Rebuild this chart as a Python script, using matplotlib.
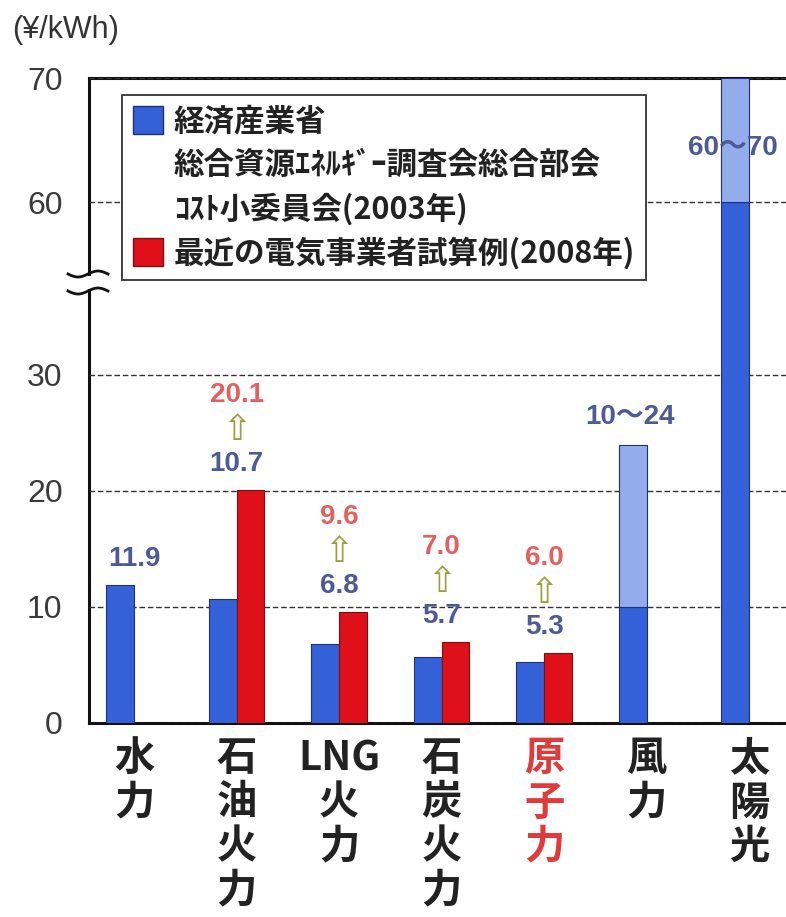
import numpy as np
import matplotlib
matplotlib.use("Agg")
import matplotlib.pyplot as plt
from matplotlib.patches import Patch, Rectangle
from matplotlib.lines import Line2D

# Generation cost per kWh by power source
categories = ["水力", "石油火力", "LNG火力", "石炭火力", "原子力", "風力", "太陽光"]
tick_labels = ["水\n力", "石\n油\n火\n力", "LNG\n火\n力", "石\n炭\n火\n力", "原\n子\n力", "風\n力", "太\n陽\n光"]
meti_cost = [11.9, 10.7, 6.8, 5.7, 5.3, 10, 60]           # METI 2003 (lower bound for ranges)
meti_cost_high = [None, None, None, None, None, 24, 70]   # upper bound where a range is given
utility_cost = [None, 20.1, 9.6, 7.0, 6.0, None, None]     # utilities 2008

legend_labels = ["経済産業省",
                 "総合資源ｴﾈﾙｷﾞｰ調査会総合部会",
                 "ｺｽﾄ小委員会(2003年)",
                 "最近の電気事業者試算例(2008年)"]

BLUE = "#3461d8"
BLUE_EDGE = "#1f2f7a"
LIGHT_BLUE = "#93aceb"
RED = "#e0101a"
RED_EDGE = "#7a1010"
LBL_BLUE = "#4c5a96"
LBL_RED = "#e46060"
ARROW = "#9a9e3c"
JP = "Noto Sans CJK JP"
NUM = ["Liberation Sans", JP]

W, H = 786, 917
fig = plt.figure(figsize=(W / 100, H / 100), dpi=100)

# broken y axis: lower 0-38, upper 53.5-70, stacked without gap
ax_lo = fig.add_axes([89 / W, 1 - 723 / H, 705 / W, 440 / H])
ax_hi = fig.add_axes([89 / W, 1 - 283 / H, 705 / W, 205 / H], sharex=ax_lo)

x = np.arange(len(categories))
w = 0.27
low = np.array(meti_cost, dtype=float)
high = np.array([np.nan if v is None else v for v in meti_cost_high])
util = np.array([np.nan if v is None else v for v in utility_cost])
rng = ~np.isnan(high)
has_u = ~np.isnan(util)

for ax in (ax_lo, ax_hi):
    ax.bar(x - w / 2, low, w, color=BLUE, edgecolor=BLUE_EDGE, linewidth=0.8, zorder=3)
    ax.bar(x[rng] - w / 2, high[rng] - low[rng], w, bottom=low[rng],
           color=LIGHT_BLUE, edgecolor=BLUE_EDGE, linewidth=0.8, zorder=3)
    ax.bar(x[has_u] + w / 2, util[has_u], w, color=RED, edgecolor=RED_EDGE,
           linewidth=0.8, zorder=3)
    ax.grid(axis="y", linestyle=(0, (4, 2)), color="#333333", linewidth=1.0, zorder=1)
    ax.set_axisbelow(False)
    for s in ax.spines.values():
        s.set_linewidth(2.2)
        s.set_color("#111111")
    ax.spines["right"].set_visible(False)
    ax.tick_params(axis="y", length=0, pad=19, labelsize=23, labelcolor="#3a3a3a")

ax_lo.set_xlim(-0.44, -0.44 + 705 / 102.5)
ax_lo.set_ylim(0, 440 / 11.6)
ax_hi.set_ylim(60 - 81 / 12.4, 70)
ax_lo.set_yticks([0, 10, 20, 30])
ax_hi.set_yticks([60, 70])
for ax in (ax_lo, ax_hi):
    for t in ax.get_yticklabels():
        t.set_family("Liberation Sans")

ax_lo.spines["top"].set_visible(False)
ax_hi.spines["bottom"].set_visible(False)
ax_hi.tick_params(axis="x", bottom=False, labelbottom=False)

ax_lo.set_xticks(x, tick_labels)
ax_lo.tick_params(axis="x", length=0, pad=11)
for i, t in enumerate(ax_lo.get_xticklabels()):
    t.set_family(JP)
    t.set_fontweight("bold")
    t.set_fontsize(29)
    t.set_linespacing(1.1)
    t.set_color("#e03a3a" if categories[i] == "原子力" else "#222222")

# value labels
for i in range(len(categories)):
    if rng[i]:
        txt = f"{low[i]:g}～{high[i]:g}"
        if high[i] <= ax_lo.get_ylim()[1]:
            ax_lo.annotate(txt, (x[i] - w / 2, high[i]), xytext=(-3, 28),
                           textcoords="offset pixels", ha="center", va="center",
                           fontsize=20, fontweight="bold", family=NUM, color=LBL_BLUE, zorder=6)
        else:
            ax_hi.annotate(txt, (x[i] - w / 2, (low[i] + high[i]) / 2), xytext=(-2, -8),
                           textcoords="offset pixels", ha="center", va="center",
                           fontsize=20, fontweight="bold", family=NUM, color=LBL_BLUE, zorder=6)
        continue
    top = low[i] if not has_u[i] else max(low[i], util[i])
    ax_lo.annotate(f"{low[i]:.1f}", (x[i], top), xytext=(0, 26), textcoords="offset pixels",
                   ha="center", va="center", fontsize=20, fontweight="bold",
                   family=NUM, color=LBL_BLUE, zorder=6)
    if has_u[i]:
        ax_lo.annotate("⇧", (x[i], top), xytext=(0, 60), textcoords="offset pixels",
                       ha="center", va="center", fontsize=25, family="DejaVu Sans",
                       color=ARROW, zorder=6)
        ax_lo.annotate(f"{util[i]:.1f}", (x[i], top), xytext=(0, 95), textcoords="offset pixels",
                       ha="center", va="center", fontsize=20, fontweight="bold",
                       family=NUM, color=LBL_RED, zorder=6)

handles = [Patch(facecolor=BLUE, edgecolor=BLUE_EDGE),
           Patch(facecolor="none", edgecolor="none"),
           Patch(facecolor="none", edgecolor="none"),
           Patch(facecolor=RED, edgecolor=RED_EDGE)]
leg = ax_hi.legend(handles, legend_labels, loc="upper left",
                   bbox_to_anchor=(33 / 705, 188 / 205), borderaxespad=0,
                   prop={"family": JP, "weight": "bold", "size": 22},
                   frameon=True, fancybox=False, framealpha=1, edgecolor="#333333",
                   handlelength=1.0, handleheight=1.05, handletextpad=0.35,
                   labelspacing=0.38, borderpad=0.35)
leg.get_frame().set_linewidth(1.3)
leg.set_zorder(7)
for t in leg.get_texts():
    t.set_color("#222222")

# axis break marks on the left spine
fig.add_artist(Rectangle((82 / W, 1 - 289 / H), 14 / W, 13 / H, transform=fig.transFigure,
                         facecolor="white", edgecolor="none", zorder=10))
tt = np.linspace(0, 1, 40)
for y0 in (274, 291):
    xs = (68 + 40 * tt) / W
    ys = 1 - (y0 + 3 * np.sin(2 * np.pi * tt)) / H
    fig.add_artist(Line2D(xs, ys, transform=fig.transFigure, color="#111111",
                          linewidth=2.0, zorder=11))

fig.text(12 / W, 1 - 30 / H, "(¥/kWh)", ha="left", va="center", fontsize=22,
         family=NUM, color="#333333")

fig.savefig("out.png", dpi=100)
